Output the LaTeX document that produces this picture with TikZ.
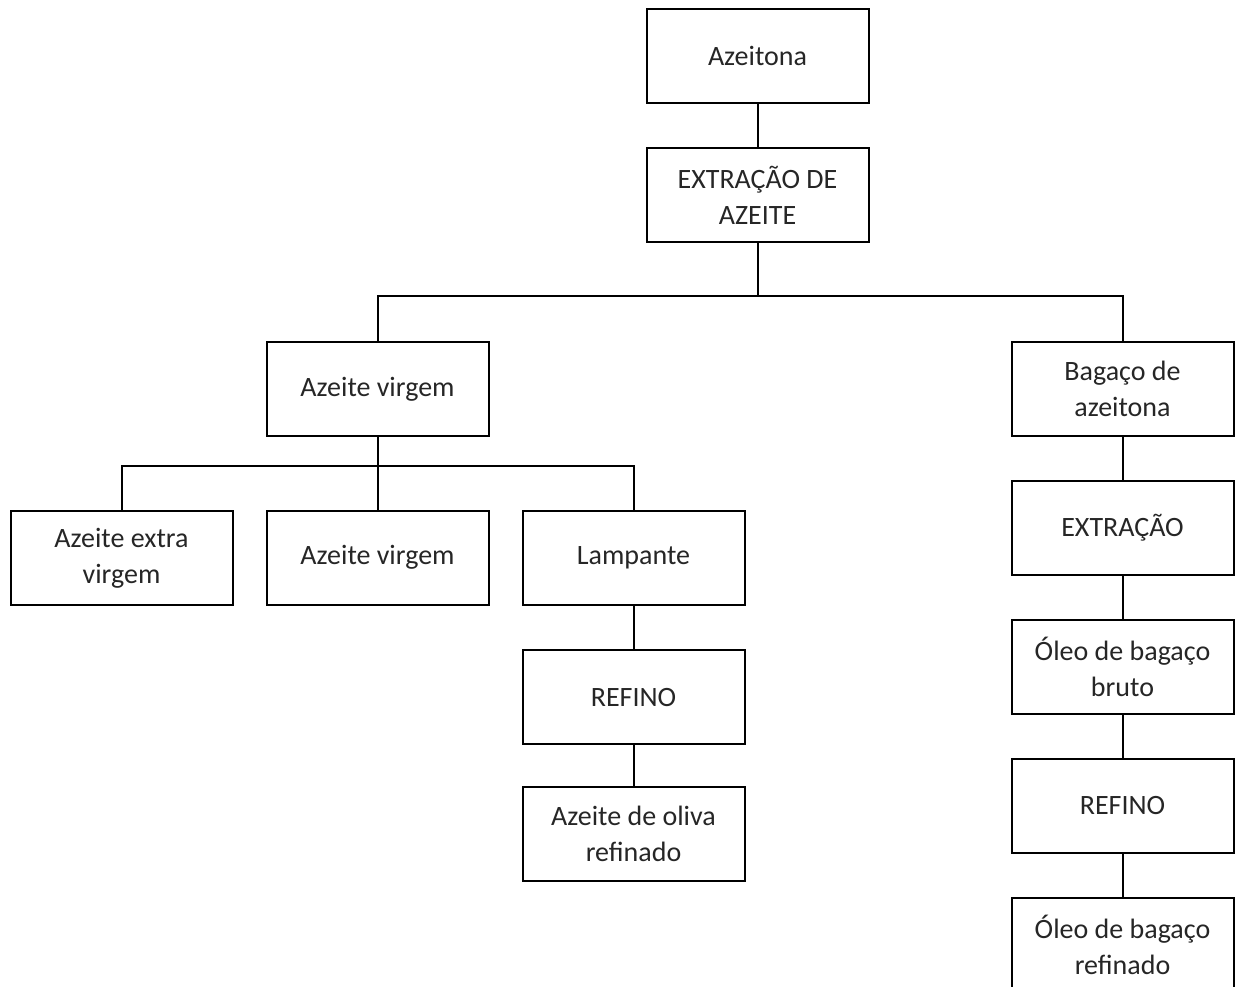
\documentclass[tikz,border=0pt]{standalone}
\usepackage{fontspec}
\setmainfont{Carlito}
\begin{document}
\begin{tikzpicture}[x=1pt,y=-1pt,
  box/.style={draw=black, line width=2pt, minimum width=222pt, minimum height=94pt, inner sep=0pt, align=center, font=\fontsize{28}{36}\selectfont, text=black!85},
  link/.style={draw=black, line width=2pt}]
\useasboundingbox (0,0) rectangle (1236,986);
\clip (0,0) rectangle (1236,986);
\node[box] (az) at (757.5,56) {Azeitona};
\node[box] (ext) at (757.5,195) {EXTRAÇÃO DE\\AZEITE};
\node[box] (av) at (377.5,389) {Azeite virgem};
\node[box] (bag) at (1122.5,389) {Bagaço de\\azeitona};
\node[box] (aev) at (121.5,558) {Azeite extra\\virgem};
\node[box] (av2) at (377.5,557.5) {Azeite virgem};
\node[box] (lam) at (633.5,558) {Lampante};
\node[box] (ref1) at (633.5,697) {REFINO};
\node[box] (aor) at (633.5,833.5) {Azeite de oliva\\refinado};
\node[box] (ext2) at (1122.5,528) {EXTRAÇÃO};
\node[box] (obb) at (1122.5,667) {Óleo de bagaço\\bruto};
\node[box] (ref2) at (1122.5,805.5) {REFINO};
\node[box] (obr) at (1122.5,945) {Óleo de bagaço\\refinado};
\coordinate (j1) at (757.5,296);
\coordinate (j2) at (377.5,466);
\draw[link] (az) -- (ext);
\draw[link] (ext.south) -- (j1) -| (av.north);
\draw[link] (j1) -| (bag.north);
\draw[link] (av.south) -- (j2) -| (aev.north);
\draw[link] (j2) -- (av2.north);
\draw[link] (j2) -| (lam.north);
\draw[link] (lam) -- (ref1);
\draw[link] (ref1) -- (aor);
\draw[link] (bag) -- (ext2);
\draw[link] (ext2) -- (obb);
\draw[link] (obb) -- (ref2);
\draw[link] (ref2) -- (obr);
\end{tikzpicture}
\end{document}
